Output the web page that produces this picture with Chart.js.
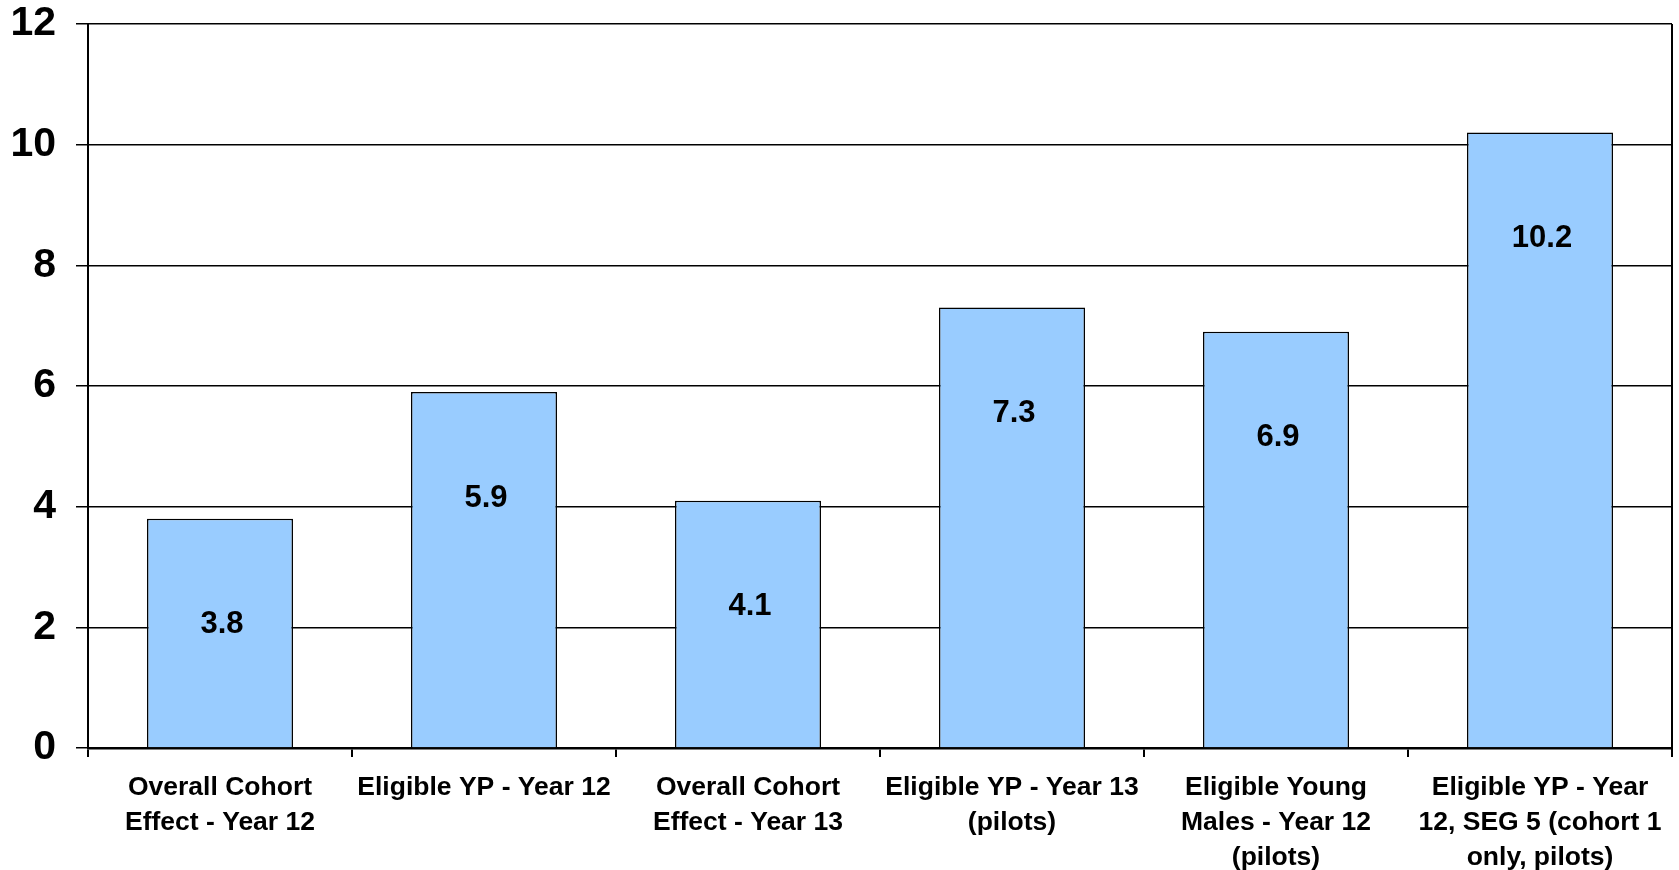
<!DOCTYPE html>
<html>
<head>
<meta charset="utf-8">
<script src="https://cdn.jsdelivr.net/npm/chart.js@4/dist/chart.umd.min.js"></script>
<style>
  html, body { margin: 0; padding: 0; background: #fff; }
  #wrap { width: 1679px; height: 870px; }
</style>
</head>
<body>
<div id="wrap"><canvas id="effectChart" width="1679" height="870"></canvas></div>
<script>
const categories = [
    ['Overall Cohort', 'Effect - Year 12'],
    ['Eligible YP - Year 12'],
    ['Overall Cohort', 'Effect - Year 13'],
    ['Eligible YP - Year 13', '(pilots)'],
    ['Eligible Young', 'Males - Year 12', '(pilots)'],
    ['Eligible YP - Year', '12, SEG 5 (cohort 1', 'only, pilots)']
];
const effectValues = [3.8, 5.9, 4.1, 7.3, 6.9, 10.2];
const yTicks = [0, 2, 4, 6, 8, 10, 12];

const FONT = '"Liberation Sans", Arial, sans-serif';

// value labels sit a fixed distance below the top of each bar
const barLabels = {
    id: 'barLabels',
    afterDatasetsDraw(chart) {
        const ctx = chart.ctx;
        const meta = chart.getDatasetMeta(0);
        ctx.save();
        ctx.font = 'bold 31px ' + FONT;
        ctx.fillStyle = '#000';
        ctx.textAlign = 'center';
        ctx.textBaseline = 'middle';
        meta.data.forEach((bar, i) => {
            ctx.fillText(effectValues[i].toFixed(1), bar.x + 2, bar.y + 106);
        });
        ctx.restore();
    }
};

// right-hand edge of the plot area
const plotFrame = {
    id: 'plotFrame',
    afterDraw(chart) {
        const a = chart.chartArea;
        const ctx = chart.ctx;
        ctx.save();
        ctx.strokeStyle = '#000';
        ctx.lineWidth = 2;
        ctx.beginPath();
        ctx.moveTo(a.right, a.top);
        ctx.lineTo(a.right, a.bottom + 9);
        ctx.stroke();
        ctx.restore();
    }
};

const ctx = document.getElementById('effectChart').getContext('2d');
new Chart(ctx, {
    type: 'bar',
    data: {
        labels: categories,
        datasets: [{
            data: effectValues,
            backgroundColor: '#99ccff',
            borderColor: '#000',
            borderWidth: 1.5,
            barPercentage: 1,
            categoryPercentage: 0.553
        }]
    },
    options: {
        responsive: false,
        animation: false,
        layout: { padding: { top: 24, right: 7, left: 0, bottom: 0 } },
        plugins: {
            legend: { display: false },
            tooltip: { enabled: false }
        },
        scales: {
            y: {
                min: 0,
                max: 12,
                afterBuildTicks: scale => { scale.ticks = yTicks.map(v => ({ value: v })); },
                afterFit: scale => {
                    scale.width = 88;
                    scale.paddingTop = 0;
                    scale.paddingBottom = 0;
                },
                ticks: {
                    color: '#000',
                    padding: 20,
                    font: { family: FONT, size: 41, weight: 'bold', lineHeight: 1.17 }
                },
                grid: { color: '#000', lineWidth: 1.5, tickLength: 12 },
                border: { display: true, color: '#000', width: 2 }
            },
            x: {
                afterFit: scale => { scale.height = 122; },
                ticks: {
                    color: '#000',
                    padding: 13,
                    maxRotation: 0,
                    autoSkip: false,
                    font: { family: FONT, size: 26.5, weight: 'bold', lineHeight: 1.32 }
                },
                grid: { color: '#000', lineWidth: 2, drawOnChartArea: false, tickLength: 9, offset: true },
                border: { display: true, color: '#000', width: 2.5 }
            }
        }
    },
    plugins: [barLabels, plotFrame]
});
</script>
</body>
</html>
